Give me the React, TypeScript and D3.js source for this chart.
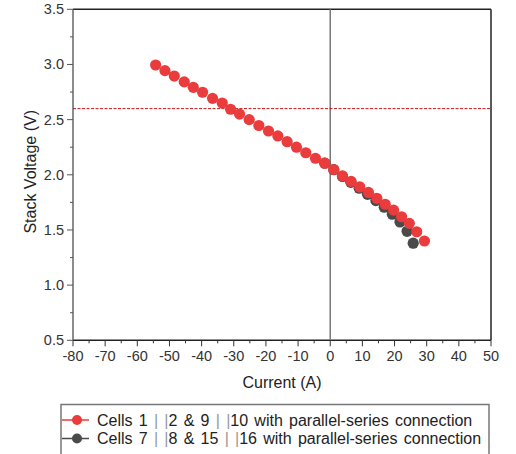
import React from 'react';
import * as d3 from 'd3';

// Cells 1||2 & 9||10 (red)
const redCurrent = [-54.3, -51.4, -48.5, -45.4, -42.6, -39.7, -36.6, -33.6, -31.0, -28.2, -25.2, -22.2, -19.2, -16.3, -13.4, -10.5, -7.6, -4.6, -1.7, 1.1, 3.8, 6.5, 9.2, 11.9, 14.5, 17.1, 19.7, 22.2, 24.6, 26.9, 29.3];
const redVoltage = [2.995, 2.944, 2.895, 2.842, 2.793, 2.748, 2.693, 2.650, 2.594, 2.550, 2.500, 2.447, 2.397, 2.352, 2.300, 2.250, 2.200, 2.150, 2.105, 2.048, 1.990, 1.940, 1.890, 1.840, 1.787, 1.733, 1.680, 1.620, 1.560, 1.484, 1.400];

// Cells 7||8 & 15||16 (grey)
const greyCurrent = [-1.7, 1.1, 3.8, 6.4, 9.0, 11.6, 14.2, 16.8, 19.3, 21.7, 23.9, 25.8];
const greyVoltage = [2.105, 2.046, 1.985, 1.932, 1.878, 1.823, 1.766, 1.706, 1.643, 1.572, 1.488, 1.380];

const xTicks = [-80, -70, -60, -50, -40, -30, -20, -10, 0, 10, 20, 30, 40, 50];
const yTicks = [0.5, 1.0, 1.5, 2.0, 2.5, 3.0, 3.5];
const refVoltage = 2.6;

const legendRows = [
  { a: 'Cells 1 ', b: '2 & 9 ', c: '10 with parallel-series connection', color: '#ea3b3d' },
  { a: 'Cells 7 ', b: '8 & 15 ', c: '16 with parallel-series connection', color: '#4a4a4a' },
];

const W = 516;
const H = 454;
const m = { left: 73, right: 25, top: 9.3, bottom: 113.7 };

export default function App() {
  const x = d3.scaleLinear().domain([-80, 50]).range([m.left, W - m.right]);
  const y = d3.scaleLinear().domain([0.5, 3.5]).range([H - m.bottom, m.top]);

  const xMinor = d3.range(-75, 50, 10);
  const yMinor = d3.range(0.75, 3.5, 0.5);

  const red = redCurrent.map((c, i) => ({ c, v: redVoltage[i] }));
  const grey = greyCurrent.map((c, i) => ({ c, v: greyVoltage[i] }));

  const x0 = x(-80), x1 = x(50), y0 = y(0.5), y1 = y(3.5);
  const font = '"Liberation Sans", Arial, sans-serif';

  return (
    <svg width={W} height={H} style={{ position: 'absolute', left: 0, top: 0 }} fontFamily={font}>
      <rect width={W} height={H} fill="#fff" />
      {/* frame */}
      <line x1={x0} x2={x1} y1={y1} y2={y1} stroke="#222" strokeWidth={1.5} />
      <line x1={x1} x2={x1} y1={y1} y2={y0} stroke="#222" strokeWidth={1.5} />
      <line x1={x0} x2={x1} y1={y0} y2={y0} stroke="#222" strokeWidth={1.5} />
      <line x1={x0} x2={x0} y1={y1} y2={y0} stroke="#666" strokeWidth={1.5} />
      {/* zero current line */}
      <line x1={x(0)} x2={x(0)} y1={y1} y2={y0} stroke="#777" strokeWidth={1.5} />
      {/* reference voltage */}
      <line x1={x0} x2={x1} y1={y(refVoltage)} y2={y(refVoltage)} stroke="#c8171b" strokeWidth={1} strokeDasharray="3,1.5" />

      {/* x ticks */}
      {xTicks.map(t => (
        <g key={'xt' + t}>
          <line x1={x(t)} x2={x(t)} y1={y0} y2={y0 + 6} stroke="#333" strokeWidth={1} />
          <text x={x(t)} y={y0 + 21} textAnchor="middle" fontSize={14.5} fill="#333">{t}</text>
        </g>
      ))}
      {xMinor.map(t => (
        <line key={'xm' + t} x1={x(t)} x2={x(t)} y1={y0} y2={y0 + 3} stroke="#333" strokeWidth={1} />
      ))}
      {/* y ticks */}
      {yTicks.map(t => (
        <g key={'yt' + t}>
          <line x1={x0 - 6} x2={x0} y1={y(t)} y2={y(t)} stroke="#555" strokeWidth={1} />
          <text x={x0 - 9} y={y(t) + 5} textAnchor="end" fontSize={14.5} fill="#333">{t.toFixed(1)}</text>
        </g>
      ))}
      {yMinor.map(t => (
        <line key={'ym' + t} x1={x0 - 3} x2={x0} y1={y(t)} y2={y(t)} stroke="#555" strokeWidth={1} />
      ))}

      <text x={(x0 + x1) / 2} y={388} textAnchor="middle" fontSize={16} fill="#222">Current (A)</text>
      <text transform={`translate(36,${(y0 + y1) / 2 - 3}) rotate(-90)`} textAnchor="middle" fontSize={16} fill="#222">Stack Voltage (V)</text>

      {/* series */}
      {grey.map((d, i) => (
        <circle key={'g' + i} cx={x(d.c)} cy={y(d.v)} r={5.6} fill="#4a4a4a" />
      ))}
      {red.map((d, i) => (
        <circle key={'r' + i} cx={x(d.c)} cy={y(d.v)} r={5.6} fill="#ea3b3d" />
      ))}

      {/* legend */}
      <rect x={61} y={404.5} width={428} height={60} fill="#fff" stroke="#777" strokeWidth={1.5} />
      {legendRows.map((r, i) => {
        const ly = 420 + i * 18.5;
        return (
          <g key={'l' + i}>
            <line x1={62} x2={89} y1={ly} y2={ly} stroke={r.color} strokeWidth={1.5} />
            <circle cx={77} cy={ly} r={5} fill={r.color} />
            <text x={97} y={ly + 5.5} fontSize={16} wordSpacing={1.8} fill="#222">
              {r.a}
              <tspan fill="#999" fontWeight={300}>| |</tspan>
              {r.b}
              <tspan fill="#999" fontWeight={300}>| |</tspan>
              {r.c}
            </text>
          </g>
        );
      })}
    </svg>
  );
}
